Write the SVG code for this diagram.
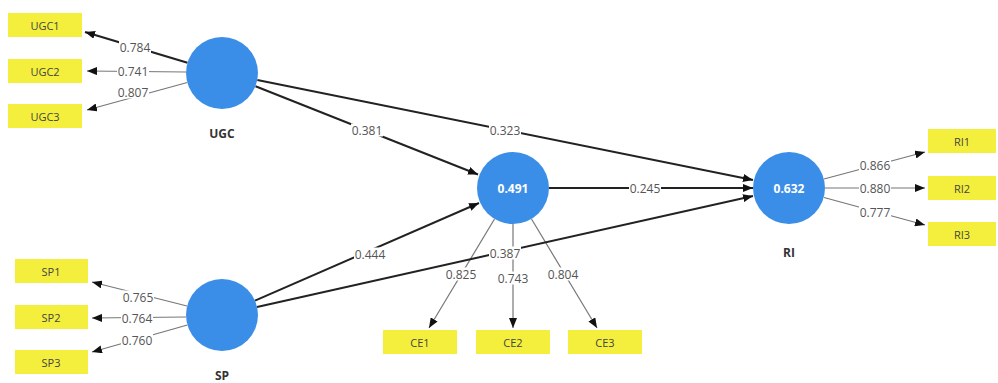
<svg xmlns="http://www.w3.org/2000/svg" width="998" height="383" viewBox="0 0 998 383">
<defs>
<marker id="ah" viewBox="0 0 10 8" refX="10" refY="4" markerWidth="10" markerHeight="8" markerUnits="userSpaceOnUse" orient="auto">
<path d="M0,0 L10,4 L0,8 Z" fill="#111"/>
</marker>
</defs>
<style>
.ind{fill:#f4ef3c}
.it{font-family:"Open Sans","Noto Sans",sans-serif;font-size:11px;fill:#444;text-anchor:middle;dominant-baseline:central}
.lv{fill:#3b8ee8}
.lvt{font-family:"Open Sans","Noto Sans",sans-serif;font-size:12px;font-weight:bold;fill:#fff;text-anchor:middle;dominant-baseline:central}
.nm{font-family:"Open Sans","Noto Sans",sans-serif;font-size:12px;font-weight:bold;fill:#333;text-anchor:middle;dominant-baseline:central}
.m{stroke:#777;stroke-width:1.2;fill:none;marker-end:url(#ah)}
.s{stroke:#222;stroke-width:2;fill:none;marker-end:url(#ah)}
.lb{fill:#fff}
.lt{font-family:"Open Sans","Noto Sans",sans-serif;font-size:12px;fill:#555;text-anchor:middle;dominant-baseline:central}
</style>
<g id="connectors">
<line class="m" x1="187.5" y1="62.7" x2="85" y2="32" style="stroke:#222;stroke-width:2.2"/>
<line class="m" x1="186" y1="72" x2="87" y2="71"/>
<line class="m" x1="187.3" y1="82.5" x2="87" y2="110"/>
<line class="m" x1="187" y1="306" x2="92" y2="282"/>
<line class="m" x1="186" y1="317" x2="92" y2="318"/>
<line class="m" x1="187.4" y1="325" x2="92" y2="352"/>
<line class="m" x1="494.5" y1="219" x2="429" y2="328"/>
<line class="m" x1="513" y1="224" x2="513" y2="328"/>
<line class="m" x1="531.5" y1="219" x2="597" y2="328"/>
<line class="m" x1="824" y1="179" x2="925" y2="152"/>
<line class="m" x1="825" y1="188" x2="925" y2="188"/>
<line class="m" x1="824" y1="197.5" x2="925" y2="225"/>
<line class="s" x1="255.5" y1="86.2" x2="478" y2="174.5"/>
<line class="s" x1="257.3" y1="80" x2="753" y2="180"/>
<line class="s" x1="549" y1="188" x2="753" y2="188"/>
<line class="s" x1="255" y1="300.6" x2="479" y2="203"/>
<line class="s" x1="257" y1="307" x2="753" y2="196"/>
<g id="labels">
<rect class="lb" x="119" y="41" width="32" height="13"/><text class="lt" x="135" y="47.5">0.784</text>
<rect class="lb" x="117" y="64.5" width="32" height="13"/><text class="lt" x="133" y="71">0.741</text>
<rect class="lb" x="117" y="85.5" width="32" height="13"/><text class="lt" x="133" y="92">0.807</text>
<rect class="lb" x="122" y="290.5" width="32" height="13"/><text class="lt" x="138" y="297">0.765</text>
<rect class="lb" x="121" y="311.5" width="32" height="13"/><text class="lt" x="137" y="318">0.764</text>
<rect class="lb" x="121" y="333.5" width="32" height="13"/><text class="lt" x="137" y="340">0.760</text>
<rect class="lb" x="351" y="123.5" width="32" height="13"/><text class="lt" x="367" y="130">0.381</text>
<rect class="lb" x="489" y="123.5" width="32" height="13"/><text class="lt" x="505" y="130">0.323</text>
<rect class="lb" x="629" y="181.5" width="32" height="13"/><text class="lt" x="645" y="188">0.245</text>
<rect class="lb" x="354" y="247.5" width="32" height="13"/><text class="lt" x="370" y="254">0.444</text>
<rect class="lb" x="489" y="246.5" width="32" height="13"/><text class="lt" x="505" y="253">0.387</text>
<rect class="lb" x="445" y="267.5" width="32" height="13"/><text class="lt" x="461" y="274">0.825</text>
<rect class="lb" x="497" y="271.5" width="32" height="13"/><text class="lt" x="513" y="278">0.743</text>
<rect class="lb" x="547" y="267.5" width="32" height="13"/><text class="lt" x="563" y="274">0.804</text>
<rect class="lb" x="859" y="158.5" width="32" height="13"/><text class="lt" x="875" y="165">0.866</text>
<rect class="lb" x="859" y="182" width="32" height="13"/><text class="lt" x="875" y="188.5">0.880</text>
<rect class="lb" x="859" y="205.5" width="32" height="13"/><text class="lt" x="875" y="212">0.777</text>
</g>
</g>
<g id="UGC1"><rect class="ind" x="8" y="13" width="74" height="24"/><text class="it" x="45" y="25">UGC1</text></g>
<g id="UGC2"><rect class="ind" x="8" y="59" width="74" height="24"/><text class="it" x="45" y="71">UGC2</text></g>
<g id="UGC3"><rect class="ind" x="8" y="104" width="74" height="24"/><text class="it" x="45" y="116">UGC3</text></g>
<g id="SP1"><rect class="ind" x="15" y="259" width="73" height="24"/><text class="it" x="51" y="271">SP1</text></g>
<g id="SP2"><rect class="ind" x="15" y="305" width="73" height="24"/><text class="it" x="51" y="317">SP2</text></g>
<g id="SP3"><rect class="ind" x="15" y="350" width="73" height="24"/><text class="it" x="51" y="362">SP3</text></g>
<g id="CE1"><rect class="ind" x="383" y="330" width="74" height="24"/><text class="it" x="420" y="342">CE1</text></g>
<g id="CE2"><rect class="ind" x="476" y="330" width="74" height="24"/><text class="it" x="513" y="342">CE2</text></g>
<g id="CE3"><rect class="ind" x="568" y="330" width="74" height="24"/><text class="it" x="605" y="342">CE3</text></g>
<g id="RI1"><rect class="ind" x="928" y="129" width="68" height="24"/><text class="it" x="962" y="141">RI1</text></g>
<g id="RI2"><rect class="ind" x="928" y="176" width="68" height="24"/><text class="it" x="962" y="188">RI2</text></g>
<g id="RI3"><rect class="ind" x="928" y="222" width="68" height="24"/><text class="it" x="962" y="234">RI3</text></g>
<g id="UGC"><circle class="lv" cx="222" cy="73" r="36"/><text class="nm" x="222" y="133">UGC</text></g>
<g id="SP"><circle class="lv" cx="222" cy="315" r="36"/><text class="nm" x="222" y="375">SP</text></g>
<g id="CE"><circle class="lv" cx="513" cy="188" r="36"/><text class="lvt" x="513" y="188">0.491</text></g>
<g id="RI"><circle class="lv" cx="789" cy="188" r="36"/><text class="lvt" x="789" y="188">0.632</text><text class="nm" x="789" y="252">RI</text></g>
</svg>
